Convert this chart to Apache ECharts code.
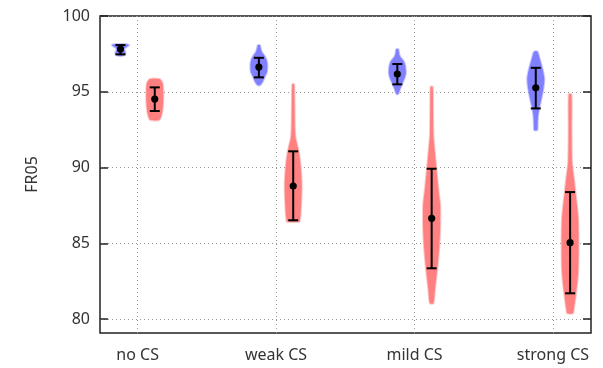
<!DOCTYPE html>
<html>
<head>
<meta charset="utf-8">
<script src="https://cdn.jsdelivr.net/npm/echarts@6/dist/echarts.min.js"></script>
<style>
  html, body { margin: 0; padding: 0; background: #fff; }
  #chart { width: 603px; height: 368px; }
</style>
</head>
<body>
<div id="chart"></div>
<script>
// Categories along the x axis
const categories = ['no CS', 'weak CS', 'mild CS', 'strong CS'];
const yTicks = [80, 85, 90, 95, 100];

// Blue group: mean and error bar ends
const blueMean = [97.82, 96.63, 96.17, 95.26];
const blueLow  = [97.47, 95.95, 95.49, 93.90];
const blueHigh = [98.08, 97.24, 96.83, 96.58];

// Red group: mean and error bar ends
const redMean = [94.52, 88.78, 86.65, 85.04];
const redLow  = [93.73, 86.52, 83.35, 81.70];
const redHigh = [95.29, 91.07, 89.92, 88.38];

// Violin outlines: [value, relative density] from top to bottom
const blueProfiles = [
  [[98.15, 0.5], [98.12, 0.85], [98.07, 1.0], [98.0, 0.85], [97.92, 0.6], [97.82, 0.45],
   [97.7, 0.5], [97.58, 0.58], [97.48, 0.58], [97.41, 0.45], [97.37, 0.25]],
  [[98.08, 0.12], [97.9, 0.2], [97.64, 0.33], [97.42, 0.6], [97.09, 0.9], [96.76, 1.0],
   [96.32, 0.95], [95.99, 0.7], [95.66, 0.45], [95.44, 0.15]],
  [[97.8, 0.12], [97.5, 0.22], [97.31, 0.35], [96.98, 0.78], [96.65, 0.95], [96.21, 1.0],
   [95.9, 0.85], [95.66, 0.67], [95.22, 0.35], [94.85, 0.1]],
  [[97.64, 0.2], [97.2, 0.45], [96.54, 0.78], [95.88, 1.0], [95.22, 0.9], [94.56, 0.67],
   [94.01, 0.45], [93.46, 0.28], [92.9, 0.22], [92.47, 0.18]]
];
const redProfiles = [
  [[95.84, 0.55], [95.7, 0.8], [95.5, 0.95], [95.0, 1.0], [94.5, 1.0], [94.0, 0.95],
   [93.6, 0.85], [93.3, 0.7], [93.13, 0.5]],
  [[95.49, 0.1], [94.5, 0.15], [93.5, 0.17], [92.5, 0.2], [92.0, 0.26], [91.8, 0.33],
   [91.04, 0.65], [90.05, 0.88], [88.73, 1.0], [87.0, 0.88], [86.5, 0.78], [86.42, 0.75]],
  [[95.33, 0.12], [94.0, 0.16], [92.14, 0.2], [91.27, 0.33], [89.95, 0.55], [88.63, 0.78],
   [87.5, 1.0], [85.98, 1.0], [84.67, 0.88], [83.35, 0.67], [82.03, 0.4], [81.04, 0.2]],
  [[94.83, 0.15], [92.59, 0.17], [90.38, 0.22], [89.29, 0.45], [88.19, 0.67], [86.65, 0.95],
   [84.89, 1.0], [83.13, 0.95], [81.81, 0.72], [80.71, 0.45], [80.38, 0.33]]
];

const GROUP_OFFSET = 0.124;   // x distance of each violin from its category
const HALF_WIDTH = 8.5;       // px, half width at full density
const FONT = 'Noto Sans';

function violinRenderer(profiles, offset, fill, edge) {
  return function (params, api) {
    const prof = profiles[params.dataIndex];
    const xc = api.value(0) + offset;
    const left = [], right = [];
    prof.forEach(function (p) {
      const c = api.coord([xc, p[0]]);
      left.push([c[0] - p[1] * HALF_WIDTH, c[1]]);
      right.push([c[0] + p[1] * HALF_WIDTH, c[1]]);
    });
    const points = left.concat(right.reverse());
    return {
      type: 'polygon',
      shape: { points: points, smooth: 0.25 },
      style: { fill: fill, stroke: edge, lineWidth: 2 }
    };
  };
}

function errorRenderer(offset) {
  return function (params, api) {
    const xc = api.value(0) + offset;
    const m = api.coord([xc, api.value(1)]);
    const lo = api.coord([xc, api.value(2)]);
    const hi = api.coord([xc, api.value(3)]);
    const cap = 5;
    const ls = { stroke: '#000', lineWidth: 2 };
    return {
      type: 'group',
      children: [
        { type: 'line', shape: { x1: m[0], y1: lo[1], x2: m[0], y2: hi[1] }, style: ls },
        { type: 'line', shape: { x1: m[0] - cap, y1: lo[1], x2: m[0] + cap, y2: lo[1] }, style: ls },
        { type: 'line', shape: { x1: m[0] - cap, y1: hi[1], x2: m[0] + cap, y2: hi[1] }, style: ls },
        { type: 'circle', shape: { cx: m[0], cy: m[1], r: 3.6 }, style: { fill: '#000' } }
      ]
    };
  };
}

const positions = categories.map(function (c, i) { return i + 1; });
const blueData = positions.map(function (x, i) { return [x, blueMean[i], blueLow[i], blueHigh[i]]; });
const redData = positions.map(function (x, i) { return [x, redMean[i], redLow[i], redHigh[i]]; });

const dotted = { type: [1, 3], color: '#9a9a9a', width: 1 };

const option = {
  animation: false,
  grid: {
    left: 100, right: 12, top: 16, bottom: 35,
    show: true, borderColor: '#222', borderWidth: 1.5, backgroundColor: 'transparent'
  },
  xAxis: {
    type: 'value', min: 0.7284, max: 4.275,
    axisLine: { show: false },
    axisTick: { show: false, customValues: positions },
    axisLabel: {
      customValues: positions,
      formatter: function (v) { return categories[Math.round(v) - 1]; },
      fontSize: 16, color: '#333', margin: 14, fontFamily: FONT
    },
    splitLine: { show: true, lineStyle: dotted }
  },
  yAxis: [{
    type: 'value', min: 79.08, max: 100, position: 'left',
    axisLine: { show: false },
    axisTick: { show: true, inside: true, length: 8, customValues: yTicks, lineStyle: { color: '#222', width: 1.5 } },
    axisLabel: { customValues: yTicks, fontSize: 16, color: '#333', margin: 10, fontFamily: FONT },
    splitLine: { show: true, lineStyle: dotted },
    name: 'FR05', nameLocation: 'middle', nameGap: 60,
    nameTextStyle: { fontSize: 16, color: '#333', fontFamily: FONT }
  }, {
    type: 'value', min: 79.08, max: 100, position: 'right',
    axisLine: { show: false },
    axisTick: { show: true, inside: true, length: 8, customValues: yTicks, lineStyle: { color: '#222', width: 1.5 } },
    axisLabel: { show: false },
    splitLine: { show: false }
  }],
  series: [
    { type: 'custom', name: 'blue violin',
      renderItem: violinRenderer(blueProfiles, -GROUP_OFFSET, '#8080ff', 'rgba(128,128,255,0.45)'),
      data: blueData, encode: { x: 0, y: [1, 2, 3] }, z: 2 },
    { type: 'custom', name: 'red violin',
      renderItem: violinRenderer(redProfiles, GROUP_OFFSET, '#ff8080', 'rgba(255,128,128,0.45)'),
      data: redData, encode: { x: 0, y: [1, 2, 3] }, z: 2 },
    { type: 'custom', name: 'blue stats', renderItem: errorRenderer(-GROUP_OFFSET),
      data: blueData, encode: { x: 0, y: [1, 2, 3] }, z: 3 },
    { type: 'custom', name: 'red stats', renderItem: errorRenderer(GROUP_OFFSET),
      data: redData, encode: { x: 0, y: [1, 2, 3] }, z: 3 }
  ]
};

const chart = echarts.init(document.getElementById('chart'), null, { renderer: 'canvas' });
chart.setOption(option);
</script>
</body>
</html>
